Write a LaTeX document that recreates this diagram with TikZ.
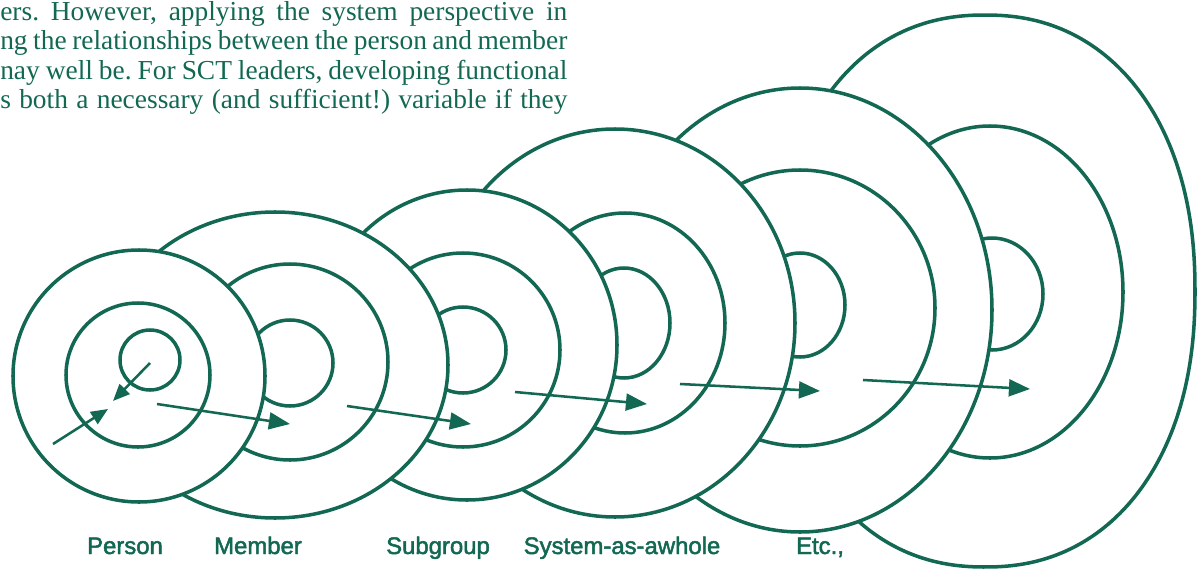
\documentclass[tikz,border=0pt]{standalone}
\usepackage{fontspec}
\setmainfont{Liberation Serif}
\newfontfamily\labelfont[FakeBold=2]{Liberation Sans}
\usepackage{tikz}
\usetikzlibrary{arrows.meta}
\definecolor{ringgreen}{RGB}{18,104,82}
\tikzset{ring/.style = {draw=ringgreen, line width=2.5pt}}
\tikzset{outer ring/.style = {ring, fill=white}}
\tikzset{flow/.style = {draw=ringgreen, line width=1.8pt,
                        -{Triangle[length=15pt, width=12pt]}}}
\tikzset{small flow/.style = {flow, -{Triangle[length=12pt, width=10pt]}}}
\tikzset{sysname/.style = {text=ringgreen, anchor=base, inner sep=0,
                           font=\labelfont\fontsize{17}{20}\selectfont}}
\tikzset{pagetext/.style = {text=ringgreen, anchor=base west, inner sep=0,
                            font=\fontsize{19.5}{22}\selectfont\frenchspacing}}

\begin{document}
\begin{tikzpicture}[x=0.025cm, y=-0.025cm]
    \useasboundingbox (0,0) rectangle (1198,572);

    % Page text above the figure
    \node[pagetext] (line1) at (0,20) {\makebox[14.175cm][s]{ers. However, applying the system perspective in}};
    \node[pagetext] (line2) at (0,49.5) {\makebox[14.175cm][s]{ng the relationships between the person and member}};
    \node[pagetext] (line3) at (0,79) {\makebox[14.175cm][s]{nay well be. For SCT leaders, developing functional}};
    \node[pagetext] (line4) at (0,108.5) {\makebox[14.175cm][s]{s both a necessary (and sufficient!) variable if they}};

    % Etc.
    \draw[outer ring] plot [smooth cycle, domain=1:358, samples=120]
        ({985+210*cos(\x)*abs(cos(\x))^(-0.09)}, {291+276*sin(\x)*abs(sin(\x))^(-0.09)});
    \draw[ring] (990,292) ellipse [x radius=133, y radius=166];
    \draw[ring] (992,294) ellipse [x radius=51, y radius=56];

    % next system
    \draw[outer ring] (800,310) ellipse [x radius=192, y radius=222];
    \draw[ring] (800,308) ellipse [x radius=135, y radius=138];
    \draw[ring] (800,305) ellipse [x radius=45, y radius=52];

    % System-as-a-whole
    \draw[outer ring] (615,323) ellipse [x radius=180, y radius=194];
    \draw[ring] (625,323) ellipse [x radius=100, y radius=110];
    \draw[ring] (624,323) ellipse [x radius=46, y radius=55];

    % Subgroup
    \draw[outer ring] (467,345) ellipse [x radius=150, y radius=155];
    \draw[ring] (463,350) circle [radius=97];
    \draw[ring] (463,350) circle [radius=43];

    % Member
    \draw[outer ring] (275,365) ellipse [x radius=173, y radius=153];
    \draw[ring] (290,362) circle [radius=98];
    \draw[ring] (290,363) circle [radius=43];

    % Person
    \draw[outer ring] (139,376) circle [radius=126];
    \draw[ring] (138,375) circle [radius=72];
    \draw[ring] (150,360) circle [radius=30];

    % Arrows
    \coordinate (p-core) at (150,363);
    \coordinate (p-self) at (113,401);
    \coordinate (p-from) at (53,444);
    \coordinate (p-to) at (108,409);
    \draw[small flow] (p-core) -- (p-self);
    \draw[small flow] (p-from) -- (p-to);

    \coordinate (a1) at (157,404);
    \coordinate (b1) at (290,424);
    \coordinate (a2) at (347,406);
    \coordinate (b2) at (471,424);
    \coordinate (a3) at (515,392);
    \coordinate (b3) at (647,404);
    \coordinate (a4) at (680,384);
    \coordinate (b4) at (820,391);
    \coordinate (a5) at (863,380);
    \coordinate (b5) at (1030,389);
    \draw[flow] (a1) -- (b1);
    \draw[flow] (a2) -- (b2);
    \draw[flow] (a3) -- (b3);
    \draw[flow] (a4) -- (b4);
    \draw[flow] (a5) -- (b5);

    % Labels
    \node[sysname] (person) at (125,554) {Person};
    \node[sysname] (member) at (258,554) {Member};
    \node[sysname] (subgroup) at (438,554) {Subgroup};
    \node[sysname] (whole) at (622,554) {System-as-awhole};
    \node[sysname] (etc) at (820,554) {Etc.,};
\end{tikzpicture}
\end{document}
